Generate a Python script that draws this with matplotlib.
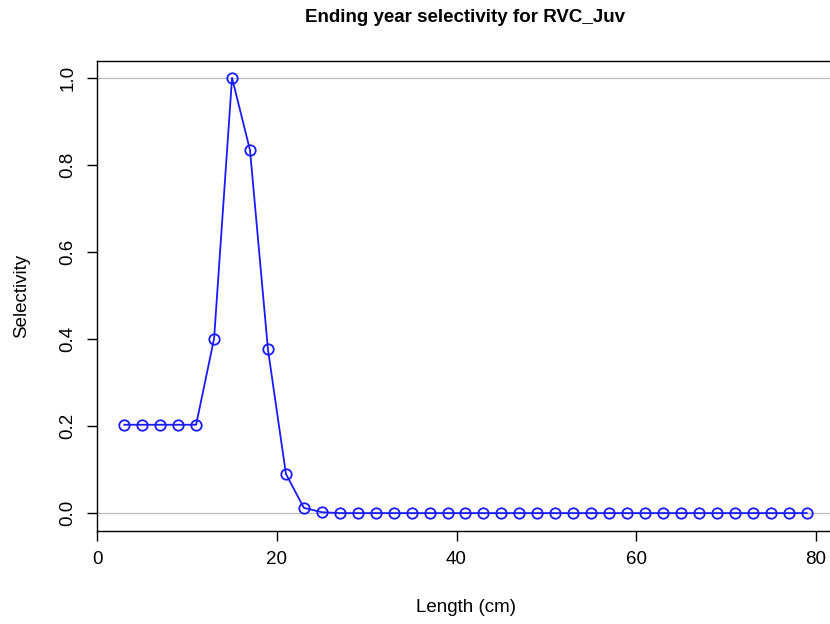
import numpy as np
import matplotlib
matplotlib.use('Agg')
import matplotlib.pyplot as plt

# selectivity at length, ending year
length_cm = [3, 5, 7, 9, 11, 13, 15, 17, 19, 21, 23, 25, 27, 29, 31, 33, 35, 37, 39,
             41, 43, 45, 47, 49, 51, 53, 55, 57, 59, 61, 63, 65, 67, 69, 71, 73, 75, 77, 79]
selectivity = [0.203, 0.203, 0.203, 0.203, 0.203, 0.401, 1.0, 0.834, 0.376, 0.09, 0.012, 0.002,
               0, 0, 0, 0, 0, 0, 0, 0, 0, 0, 0, 0, 0, 0, 0, 0, 0, 0, 0, 0, 0, 0, 0, 0, 0, 0, 0]

plt.rcParams['font.family'] = ['Liberation Sans', 'DejaVu Sans']

W, H = 830, 624
fig = plt.figure(figsize=(W/100, H/100), dpi=100)
ax = fig.add_axes([97/W, 1 - 530.5/H, (834 - 97)/W, (530.5 - 60.5)/H])

ax.axhline(0, color='#bebebe', lw=1, zorder=1)
ax.axhline(1, color='#bebebe', lw=1, zorder=1)
ax.plot(length_cm, selectivity, color='#1a1aff', lw=1.3, marker='o', markersize=7.5,
        markerfacecolor='none', markeredgecolor='#1a1aff', markeredgewidth=1.3, zorder=3)

ax.set_xlim(-0.04, 82.04)
ax.set_ylim(-0.04, 1.04)
ax.set_xticks([0, 20, 40, 60, 80])
ax.set_yticks([0.0, 0.2, 0.4, 0.6, 0.8, 1.0])
ax.set_yticklabels(['0.0', '0.2', '0.4', '0.6', '0.8', '1.0'], rotation=90, va='center')
ax.tick_params(direction='out', length=7, width=1, labelsize=13.5, pad=8, colors='black')
for s in ax.spines.values():
    s.set_linewidth(1)

fig.text(466/W, 1 - 607/H, 'Length (cm)', ha='center', va='center', fontsize=13.5)
fig.text(22/W, 1 - 296/H, 'Selectivity', ha='center', va='center', rotation=90, fontsize=13.5)
fig.text(465/W, 1 - 18/H, 'Ending year selectivity for RVC_Juv', ha='center', va='center',
         fontsize=13.5, fontweight='bold')

fig.savefig('out.png', dpi=100)
